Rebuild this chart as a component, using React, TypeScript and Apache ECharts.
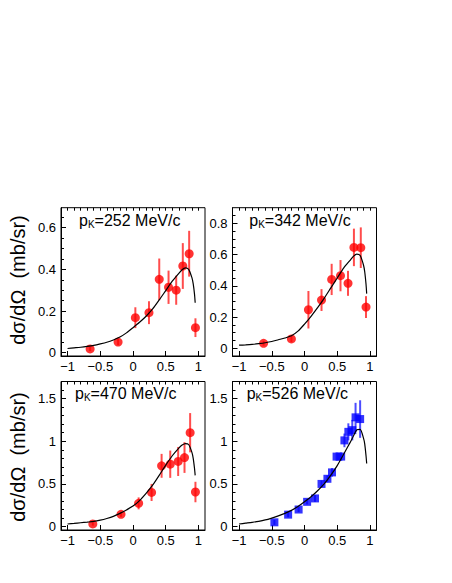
import React, { useEffect, useRef } from "react";
import * as echarts from "echarts";

// ---- data ----
const momenta = ["252", "342", "470", "526"];

const x252 = [-0.655, -0.228, 0.036, 0.244, 0.401, 0.543, 0.66, 0.761, 0.858, 0.954];
const y252 = [0.018, 0.051, 0.168, 0.192, 0.352, 0.314, 0.3, 0.416, 0.475, 0.12];
const e252 = [0.01, 0.015, 0.05, 0.055, 0.1, 0.08, 0.07, 0.11, 0.11, 0.045];

const x342 = [-0.625, -0.2, 0.06, 0.26, 0.415, 0.55, 0.665, 0.755, 0.86, 0.94];
const y342 = [0.032, 0.06, 0.247, 0.309, 0.441, 0.465, 0.416, 0.646, 0.644, 0.264];
const e342 = [0.015, 0.02, 0.12, 0.07, 0.1, 0.1, 0.08, 0.12, 0.13, 0.07];

const x470 = [-0.614, -0.183, 0.086, 0.284, 0.437, 0.569, 0.69, 0.787, 0.873, 0.954];
const y470 = [0.031, 0.144, 0.272, 0.4, 0.712, 0.731, 0.763, 0.809, 1.1, 0.405];
const e470 = [0.02, 0.03, 0.07, 0.1, 0.14, 0.16, 0.17, 0.18, 0.23, 0.12];

const x526 = [-0.46, -0.25, -0.09, 0.04, 0.16, 0.26, 0.35, 0.42, 0.49, 0.56, 0.61, 0.67, 0.73, 0.78, 0.85];
const y526 = [0.05, 0.14, 0.2, 0.29, 0.33, 0.5, 0.56, 0.635, 0.82, 0.82, 1.01, 1.11, 1.13, 1.28, 1.26];
const e526 = [0.03, 0.03, 0.03, 0.03, 0.04, 0.04, 0.04, 0.05, 0.05, 0.05, 0.08, 0.1, 0.12, 0.17, 0.22];

// model curves
const curveX = [-1, -0.9, -0.8, -0.7, -0.6, -0.5, -0.4, -0.3, -0.2, -0.1, 0, 0.1, 0.2, 0.3, 0.4, 0.5, 0.6, 0.7, 0.75, 0.8, 0.85, 0.9, 0.92, 0.94, 0.95];
const curve252 = [0.02, 0.023, 0.026, 0.03, 0.035, 0.042, 0.05, 0.061, 0.075, 0.095, 0.12, 0.146, 0.175, 0.21, 0.253, 0.298, 0.343, 0.381, 0.398, 0.407, 0.4, 0.36, 0.33, 0.28, 0.24];
const curve342 = [0.02, 0.022, 0.025, 0.03, 0.036, 0.044, 0.055, 0.066, 0.08, 0.11, 0.155, 0.205, 0.26, 0.32, 0.385, 0.45, 0.515, 0.565, 0.59, 0.603, 0.594, 0.535, 0.49, 0.41, 0.35];
const curve470 = [0.03, 0.037, 0.045, 0.052, 0.06, 0.075, 0.095, 0.12, 0.155, 0.195, 0.24, 0.305, 0.39, 0.485, 0.6, 0.72, 0.83, 0.92, 0.955, 0.973, 0.962, 0.87, 0.8, 0.68, 0.6];
const curve526 = [0.03, 0.04, 0.05, 0.062, 0.078, 0.1, 0.125, 0.155, 0.19, 0.235, 0.29, 0.35, 0.42, 0.5, 0.6, 0.715, 0.85, 0.99, 1.065, 1.135, 1.14, 1.04, 0.97, 0.83, 0.74];

// axis ticks
const xMajor = [-1, -0.5, 0, 0.5, 1];
const xMinor = [-1, -0.9, -0.8, -0.7, -0.6, -0.5, -0.4, -0.3, -0.2, -0.1, 0, 0.1, 0.2, 0.3, 0.4, 0.5, 0.6, 0.7, 0.8, 0.9, 1];
const yMajorA = [0, 0.2, 0.4, 0.6];
const yMajorB = [0, 0.2, 0.4, 0.6, 0.8];
const yMajorC = [0, 0.5, 1, 1.5];
const yMinorA = [0, 0.05, 0.1, 0.15, 0.2, 0.25, 0.3, 0.35, 0.4, 0.45, 0.5, 0.55, 0.6, 0.65];
const yMinorB = [0, 0.05, 0.1, 0.15, 0.2, 0.25, 0.3, 0.35, 0.4, 0.45, 0.5, 0.55, 0.6, 0.65, 0.7, 0.75, 0.8, 0.85];
const yMinorC = [0, 0.1, 0.2, 0.3, 0.4, 0.5, 0.6, 0.7, 0.8, 0.9, 1, 1.1, 1.2, 1.3, 1.4, 1.5, 1.6];
const yRange: [number, number][] = [[-0.016, 0.696], [-0.049, 0.9], [-0.04, 1.7], [-0.04, 1.7]];
const yLabel = "dσ/dΩ  (mb/sr)";

const FONT = "Liberation Sans";

const panels = [
  { xs: x252, ys: y252, es: e252, curve: curve252, yMajor: yMajorA, yMinor: yMinorA, color: "#ff0000", err: "rgba(255,0,0,0.7)", symbol: "circle", size: 9 },
  { xs: x342, ys: y342, es: e342, curve: curve342, yMajor: yMajorB, yMinor: yMinorB, color: "#ff0000", err: "rgba(255,0,0,0.7)", symbol: "circle", size: 9 },
  { xs: x470, ys: y470, es: e470, curve: curve470, yMajor: yMajorC, yMinor: yMinorC, color: "#ff0000", err: "rgba(255,0,0,0.7)", symbol: "circle", size: 9 },
  { xs: x526, ys: y526, es: e526, curve: curve526, yMajor: yMajorC, yMinor: yMinorC, color: "#0000ff", err: "rgba(0,0,255,0.7)", symbol: "rect", size: 8 },
];

const grids = [
  { left: 61, top: 207.7, width: 144, height: 148.3 },
  { left: 232.5, top: 207.7, width: 144, height: 148.3 },
  { left: 61, top: 381.5, width: 144, height: 148.5 },
  { left: 232.5, top: 381.5, width: 144, height: 148.5 },
];
const titlePos = [
  [79, 221],
  [249.3, 221],
  [75, 394.5],
  [246.7, 394.5],
];

const fmt = (v: number) => String(v).replace("-", "\u2212");

export default function App() {
  const ref = useRef<HTMLDivElement>(null);
  useEffect(() => {
    if (!ref.current) return;
    const chart = echarts.init(ref.current, undefined, { renderer: "svg" });
    const xAxis: any[] = [];
    const yAxis: any[] = [];
    const series: any[] = [];
    const graphic: any[] = [];
    panels.forEach((p, i) => {
      const common = { gridIndex: i, type: "value", splitLine: { show: false } };
      xAxis.push({
        ...common, min: -1.1, max: 1.1,
        axisLine: { show: true, onZero: false, lineStyle: { color: "#000", width: 1 } },
        axisTick: { show: true, inside: true, length: 5, customValues: xMajor, lineStyle: { color: "#000" } },
        axisLabel: { show: true, customValues: xMajor, formatter: fmt, color: "#000", fontFamily: FONT, fontSize: 13, margin: 4 },
      });
      xAxis.push({
        ...common, min: -1.1, max: 1.1,
        axisLine: { show: false, onZero: false },
        axisTick: { show: true, inside: true, length: 3, customValues: xMinor, lineStyle: { color: "#000" } },
        axisLabel: { show: false },
      });
      yAxis.push({
        ...common, min: yRange[i][0], max: yRange[i][1], position: "left",
        axisLine: { show: true, onZero: false, lineStyle: { color: "#000", width: 1 } },
        axisTick: { show: true, inside: true, length: 5, customValues: p.yMajor, lineStyle: { color: "#000" } },
        axisLabel: { show: true, customValues: p.yMajor, color: "#000", fontFamily: FONT, fontSize: 13, margin: 5 },
      });
      yAxis.push({
        ...common, min: yRange[i][0], max: yRange[i][1], position: "left",
        axisLine: { show: false, onZero: false },
        axisTick: { show: true, inside: true, length: 3, customValues: p.yMinor, lineStyle: { color: "#000" } },
        axisLabel: { show: false },
      });
      const errData = p.xs.map((x, k) => [x, p.ys[k] - p.es[k], p.ys[k] + p.es[k]]);
      series.push({
        type: "custom",
        xAxisIndex: 2 * i, yAxisIndex: 2 * i,
        data: errData,
        z: 2,
        renderItem: (_params: any, api: any) => {
          const a = api.coord([api.value(0), api.value(1)]);
          const b = api.coord([api.value(0), api.value(2)]);
          return { type: "line", shape: { x1: a[0], y1: a[1], x2: b[0], y2: b[1] }, style: { stroke: p.err, lineWidth: 2 } };
        },
      });
      series.push({
        type: "scatter",
        xAxisIndex: 2 * i, yAxisIndex: 2 * i,
        data: p.xs.map((x, k) => [x, p.ys[k]]),
        symbol: p.symbol, symbolSize: p.size,
        itemStyle: { color: p.color },
        z: 3,
      });
      series.push({
        type: "line",
        xAxisIndex: 2 * i, yAxisIndex: 2 * i,
        data: curveX.map((x, k) => [x, p.curve[k]]),
        showSymbol: false, symbol: "none",
        smooth: 0.25,
        lineStyle: { color: "#000", width: 1.2 },
        z: 4,
      });
      graphic.push({
        type: "text",
        left: titlePos[i][0], top: titlePos[i][1] - 9,
        style: {
          text: `{p|p}{k|K}{n|=${momenta[i]} MeV/c}`,
          rich: {
            p: { fontFamily: FONT, fontSize: 16, fill: "#000", lineHeight: 18 },
            k: { fontFamily: FONT, fontSize: 10, fill: "#000", verticalAlign: "bottom", lineHeight: 12 },
            n: { fontFamily: FONT, fontSize: 16, fill: "#000", lineHeight: 18 },
          },
        },
      });
    });
    graphic.push({
      type: "text", x: 18, y: 280, rotation: Math.PI / 2,
      style: { text: yLabel, fontFamily: FONT, fontSize: 20, fill: "#000", align: "center", verticalAlign: "middle" },
    });
    graphic.push({
      type: "text", x: 18, y: 457, rotation: Math.PI / 2,
      style: { text: yLabel, fontFamily: FONT, fontSize: 20, fill: "#000", align: "center", verticalAlign: "middle" },
    });
    chart.setOption({
      animation: false,
      backgroundColor: "#fff",
      textStyle: { fontFamily: FONT },
      grid: grids.map((g) => ({ ...g, show: true, borderColor: "#000", borderWidth: 1, backgroundColor: "transparent", containLabel: false })),
      xAxis, yAxis, series, graphic,
    });
    return () => chart.dispose();
  }, []);
  return <div ref={ref} style={{ position: "absolute", left: 0, top: 0, width: 452, height: 583 }} />;
}
